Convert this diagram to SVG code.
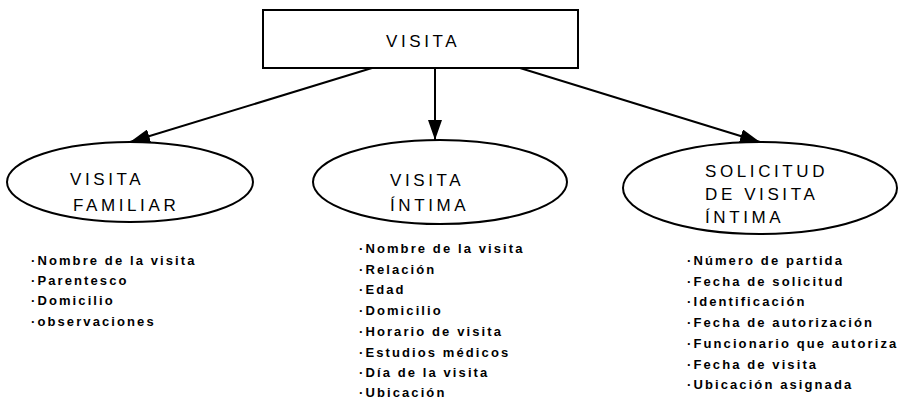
<svg xmlns="http://www.w3.org/2000/svg" width="905" height="400" viewBox="0 0 905 400">
<style>
.shape{fill:#fff;stroke:#000;stroke-width:2}
.title{font-family:"Liberation Sans",Arial,sans-serif;font-size:17px;letter-spacing:3.6px;fill:#000}
.item{font-family:"Liberation Sans",Arial,sans-serif;font-size:13px;font-weight:bold;letter-spacing:2.1px;fill:#000}
.conn{stroke:#000;stroke-width:2;fill:none}
</style>
<defs>
<marker id="arr" viewBox="0 0 20 14" refX="20" refY="7" markerWidth="20" markerHeight="14" markerUnits="userSpaceOnUse" orient="auto">
<path d="M0,0 L20,7 L0,14 Z" fill="#000"/>
</marker>
</defs>
<g id="connectors">
<line class="conn" x1="372" y1="68" x2="130" y2="142" marker-end="url(#arr)"/>
<line class="conn" x1="435" y1="68" x2="435" y2="140" marker-end="url(#arr)"/>
<line class="conn" x1="520" y1="68" x2="760" y2="142" marker-end="url(#arr)"/>
</g>
<g id="visita">
<rect class="shape" x="263" y="10" width="315" height="58"/>
<text class="title" x="386" y="47">VISITA</text>
</g>
<g id="visita-familiar">
<ellipse class="shape" cx="130" cy="182" rx="123" ry="40"/>
<text class="title" x="70" y="185">VISITA</text>
<text class="title" x="73" y="211">FAMILIAR</text>
</g>
<g id="visita-intima">
<ellipse class="shape" cx="440" cy="182" rx="127" ry="42"/>
<text class="title" x="390" y="186">VISITA</text>
<text class="title" x="390" y="211">ÍNTIMA</text>
</g>
<g id="solicitud">
<ellipse class="shape" cx="760" cy="188" rx="137" ry="46"/>
<text class="title" x="705" y="177">SOLICITUD</text>
<text class="title" x="705" y="200">DE VISITA</text>
<text class="title" x="705" y="223">ÍNTIMA</text>
</g>
<g id="list-familiar">
<text class="item" x="31" y="265">·Nombre de la visita</text>
<text class="item" x="31" y="285">·Parentesco</text>
<text class="item" x="31" y="305">·Domicilio</text>
<text class="item" x="31" y="326">·observaciones</text>
</g>
<g id="list-intima">
<text class="item" x="359" y="253">·Nombre de la visita</text>
<text class="item" x="359" y="274">·Relación</text>
<text class="item" x="359" y="294">·Edad</text>
<text class="item" x="359" y="315">·Domicilio</text>
<text class="item" x="359" y="336">·Horario de visita</text>
<text class="item" x="359" y="357">·Estudios médicos</text>
<text class="item" x="359" y="377">·Día de la visita</text>
<text class="item" x="359" y="397">·Ubicación</text>
</g>
<g id="list-solicitud">
<text class="item" x="687" y="265">·Número de partida</text>
<text class="item" x="687" y="286">·Fecha de solicitud</text>
<text class="item" x="687" y="306">·Identificación</text>
<text class="item" x="687" y="327">·Fecha de autorización</text>
<text class="item" x="687" y="348">·Funcionario que autoriza</text>
<text class="item" x="687" y="369">·Fecha de visita</text>
<text class="item" x="687" y="389">·Ubicación asignada</text>
</g>
</svg>
